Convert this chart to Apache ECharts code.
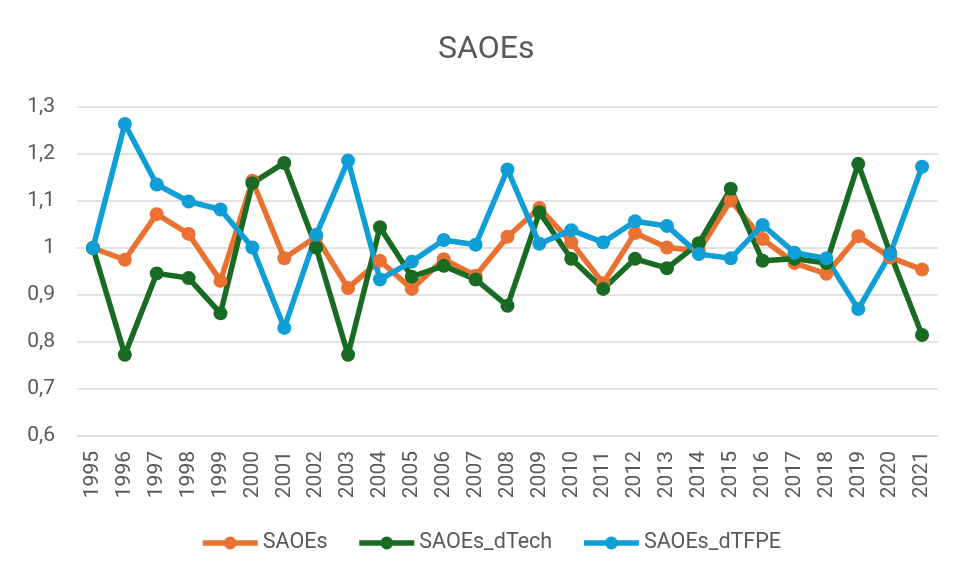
<!DOCTYPE html>
<html lang="en">
<head>
  <meta charset="UTF-8">
  <title>SAOEs</title>
  <script src="https://cdn.jsdelivr.net/npm/echarts@6/dist/echarts.min.js"></script>
  <style>
    body { margin: 0; background: #fff; }
    #chart { width: 956px; height: 575px; }
  </style>
</head>
<body>
  <div id="chart"></div>
  <script>
    // data
    const years = ['1995','1996','1997','1998','1999','2000','2001','2002','2003','2004','2005','2006','2007',
      '2008','2009','2010','2011','2012','2013','2014','2015','2016','2017','2018','2019','2020','2021'];
    const saoes = [1.0, 0.975, 1.072, 1.030, 0.930, 1.143, 0.978, 1.024, 0.915, 0.973, 0.913, 0.976, 0.941,
      1.024, 1.085, 1.012, 0.925, 1.032, 1.001, 0.994, 1.101, 1.019, 0.968, 0.945, 1.025, 0.980, 0.954];
    const saoesDTech = [1.0, 0.773, 0.946, 0.936, 0.861, 1.138, 1.181, 1.001, 0.773, 1.044, 0.939, 0.962, 0.933,
      0.877, 1.076, 0.977, 0.913, 0.977, 0.957, 1.010, 1.126, 0.973, 0.977, 0.968, 1.179, 0.989, 0.815];
    const saoesDTFPE = [1.0, 1.264, 1.135, 1.099, 1.082, 1.001, 0.830, 1.028, 1.186, 0.933, 0.971, 1.017, 1.007,
      1.167, 1.009, 1.038, 1.012, 1.057, 1.047, 0.987, 0.978, 1.049, 0.990, 0.978, 0.870, 0.987, 1.173];

    const font = 'Roboto, "Liberation Sans", sans-serif';
    const grey = '#595959';

    function lineSeries(name, data, color) {
      return {
        name: name,
        type: 'line',
        data: data,
        symbol: 'circle',
        symbolSize: 14,
        itemStyle: { color: color },
        lineStyle: { color: color, width: 5.5 },
        emphasis: { disabled: true }
      };
    }

    const chart = echarts.init(document.getElementById('chart'));
    chart.setOption({
      animation: false,
      title: {
        text: 'SAOEs',
        left: 433,
        top: 29,
        textStyle: { fontFamily: font, fontSize: 32, fontWeight: 'normal', color: grey }
      },
      legend: {
        bottom: 16,
        left: 195,
        itemWidth: 55,
        itemHeight: 16,
        itemGap: 29,
        lineStyle: { width: 5.5 },
        textStyle: { fontFamily: font, fontSize: 21.5, color: grey }
      },
      grid: { left: 77, right: 18, top: 107, bottom: 139 },
      xAxis: {
        type: 'category',
        data: years,
        boundaryGap: true,
        axisLine: { show: false },
        axisTick: { show: false },
        axisLabel: {
          rotate: 90,
          interval: 0,
          margin: 15,
          fontFamily: font,
          fontSize: 21,
          color: grey
        }
      },
      yAxis: {
        type: 'value',
        min: 0.6,
        max: 1.3,
        interval: 0.1,
        axisLabel: {
          margin: 22,
          fontFamily: font,
          fontSize: 21,
          color: grey,
          formatter: v => (Math.round(v * 10) / 10).toFixed(1).replace('.', ',').replace(/,0$/, '')
        },
        splitLine: { lineStyle: { color: '#d9d9d9', width: 1.5 } }
      },
      series: [
        lineSeries('SAOEs', saoes, '#E97132'),
        lineSeries('SAOEs_dTech', saoesDTech, '#196B24'),
        lineSeries('SAOEs_dTFPE', saoesDTFPE, '#0F9ED5')
      ]
    });
  </script>
</body>
</html>
